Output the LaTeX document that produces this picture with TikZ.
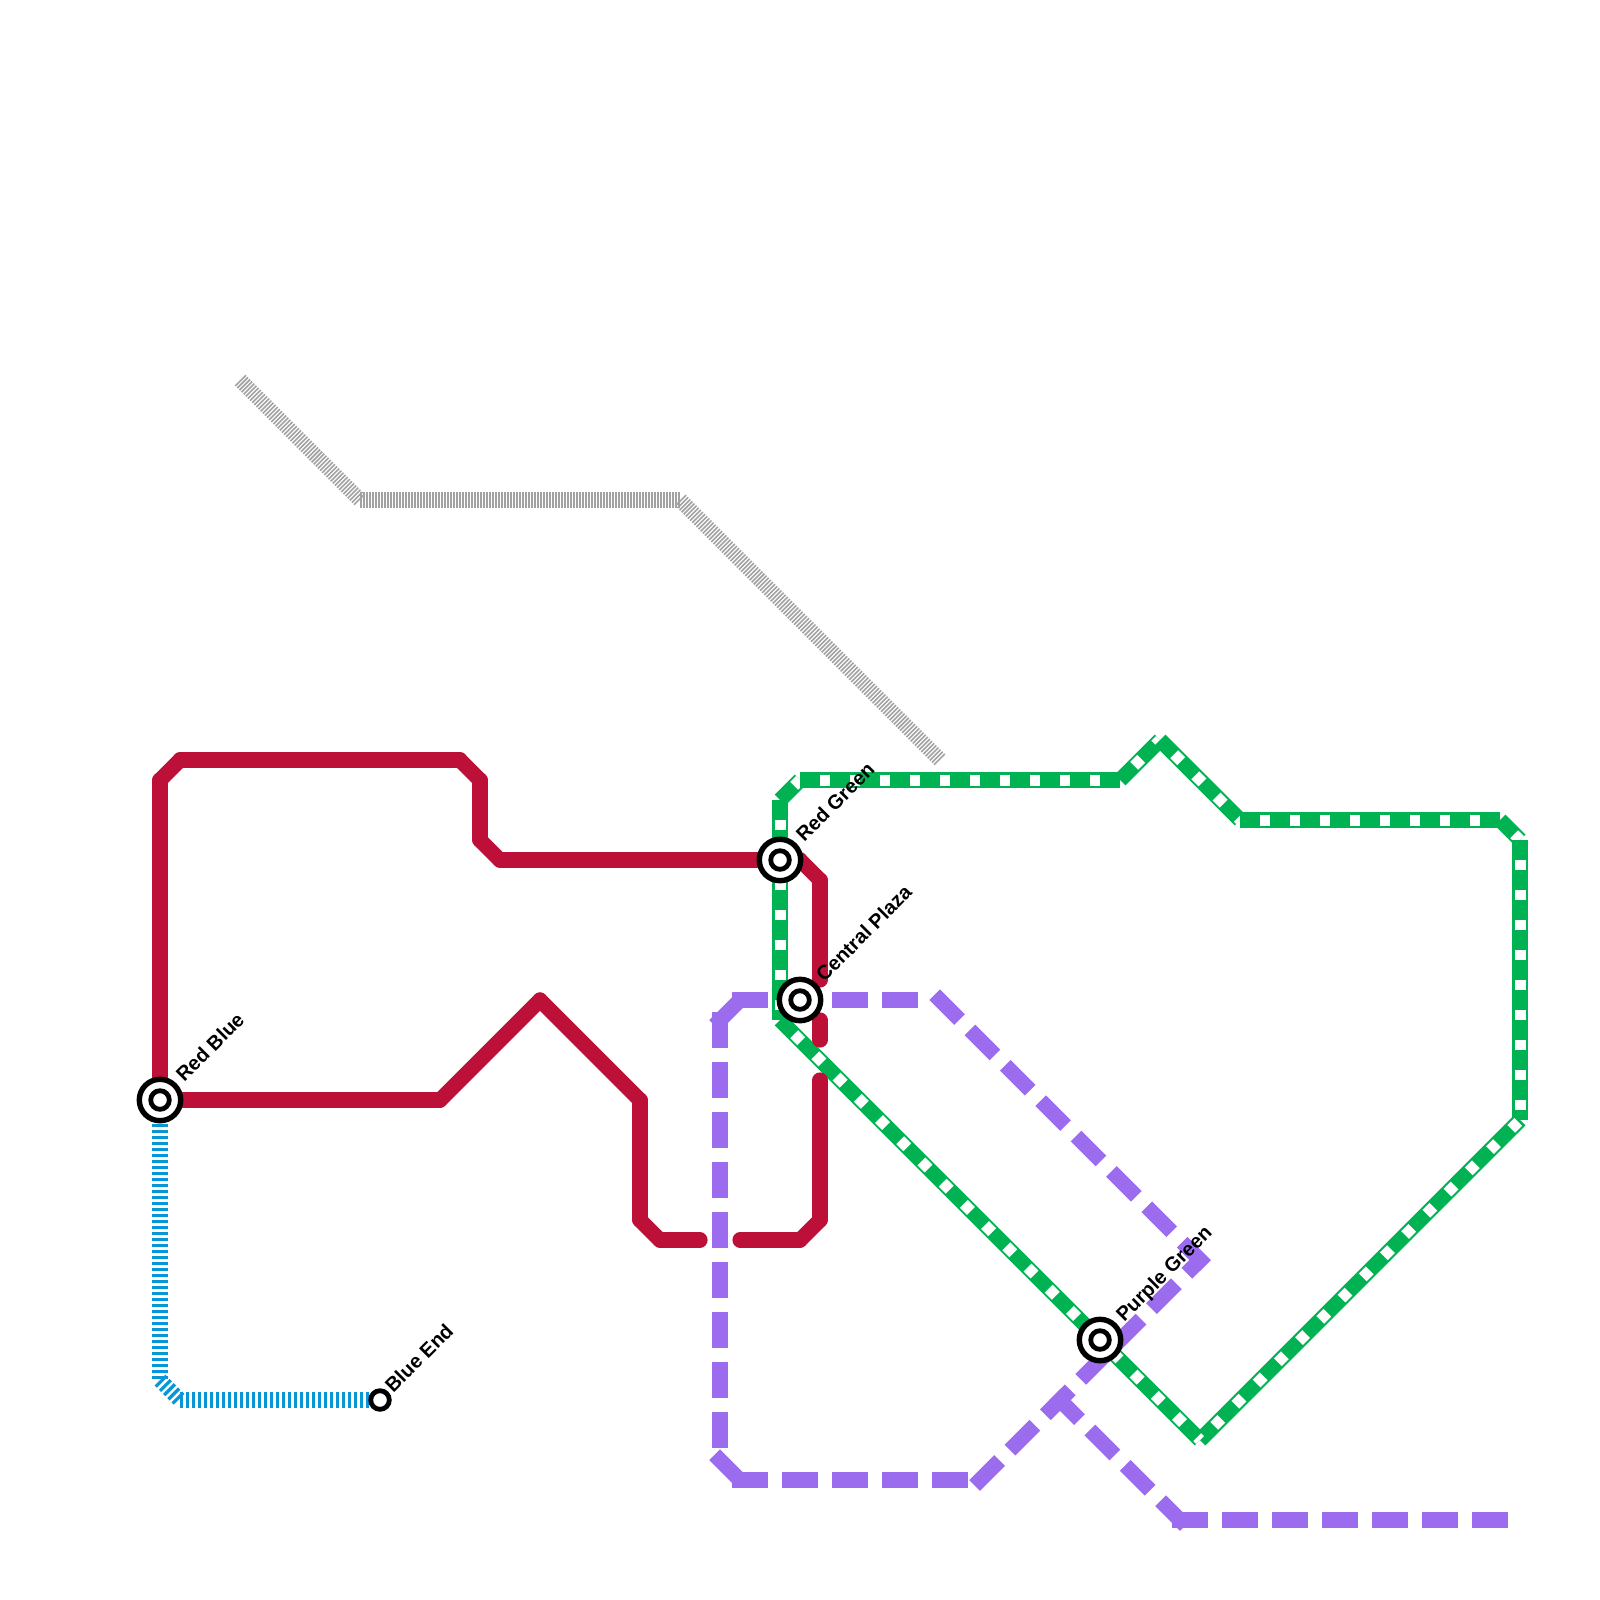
\documentclass[tikz,border=0pt]{standalone}
\usepackage{fontspec}
\setmainfont{Liberation Sans}
\usetikzlibrary{backgrounds}
\definecolor{linered}{HTML}{BD1038}
\definecolor{linegreen}{HTML}{00B251}
\definecolor{lineblue}{HTML}{0896D7}
\definecolor{linepurple}{HTML}{9B6CED}
\definecolor{linegray}{HTML}{A2A2A2}
\tikzset{
  hub/.style={circle, draw=black, fill=white, line width=2.7pt, minimum size=20.7pt, inner sep=0pt, outer sep=0pt},
  dot/.style={circle, draw=black, fill=white, line width=2.4pt, minimum size=9.3pt, inner sep=0pt, outer sep=0pt},
  lab/.style={anchor=base west, rotate=45, inner sep=0pt, font=\fontsize{10}{12}\selectfont\bfseries},
  redline/.style={linered, line width=7.6pt, line cap=round},
  greenline/.style={linegreen, line width=7.6pt},
  greengap/.style={white, line width=5.5pt, dash pattern=on 5pt off 10pt, dash phase=5pt},
  purpleline/.style={linepurple, line width=7.6pt, line cap=rect, dash pattern=on 10pt off 15pt},
  blueline/.style={lineblue, line width=7.6pt, dash pattern=on 1.6pt off 1.4pt},
  grayline/.style={linegray, line width=7.6pt, dash pattern=on .8pt off .7pt}
}
\begin{document}
\begin{tikzpicture}[x=.5pt, y=-.5pt]
  \useasboundingbox (0,0) rectangle (1600,1600);

  \node[hub] (redblue) at (160,1100) {};
  \node[dot] (redbluein) at (redblue) {};
  \node[hub] (redgreen) at (780,860) {};
  \node[dot] (redgreenin) at (redgreen) {};
  \node[hub] (central) at (800,1000) {};
  \node[dot] (centralin) at (central) {};
  \node[hub] (purplegreen) at (1100,1340) {};
  \node[dot] (purplegreenin) at (purplegreen) {};
  \node[dot] (blueend) at (380,1400) {};

  \node[lab] (redbluelab) at (184,1083) {Red Blue};
  \node[lab] (redgreenlab) at (804,843) {Red Green};
  \node[lab] (centrallab) at (824,983) {Central Plaza};
  \node[lab] (purplegreenlab) at (1124,1323) {Purple Green};
  \node[lab] (blueendlab) at (393,1394) {Blue End};

  \foreach \name/\x/\y in {
    r1/160/780, r2/180/760, r3/460/760, r4/480/780, r5/480/840, r6/500/860,
    r7/800/860, r8/820/880, r9/820/980, r10/820/1020, r11/820/1040, r12/820/1080,
    r13/820/1220, r14/800/1240, r15/740/1240, r16/700/1240, r17/660/1240,
    r18/640/1220, r19/640/1100, r20/540/1000, r21/440/1100,
    g1/780/800, g2/800/780, g3/1120/780, g4/1160/740, g5/1240/820, g6/1500/820,
    g7/1520/840, g8/1520/1120, g9/1200/1440, g10/780/1020,
    p1/740/1000, p2/940/1000, p3/1200/1260, p4/720/1020, p5/720/1460, p6/740/1480,
    p7/980/1480, p8/1060/1400, p9/1180/1520, p10/1500/1520,
    b1/160/1380, b2/180/1400,
    k1/240/380, k2/360/500, k3/680/500, k4/940/760
  } \coordinate (\name) at (\x,\y);

  \begin{pgfonlayer}{background}
    \foreach \a/\b in {k1/k2, k2/k3, k3/k4}
      \draw[grayline] (\a) -- (\b);
    \foreach \a/\b in {redblue.center/b1, b1/b2, b2/blueend.center}
      \draw[blueline] (\a) -- (\b);
    \foreach \a/\b in {g1/g2, g2/g3, g3/g4, g4/g5, g5/g6, g6/g7, g7/g8, g9/g8, g1/g10, g10/g9} {
      \draw[greenline] (\a) -- (\b);
      \draw[greengap] (\a) -- (\b);
    }
    \foreach \a/\b in {redblue.center/r1, r1/r2, r2/r3, r3/r4, r4/r5, r5/r6, r6/redgreen.center,
      redgreen.center/r7, r7/r8, r8/r9, r10/r11, r12/r13, r13/r14, r14/r15, r16/r17, r17/r18,
      r18/r19, r19/r20, r20/r21, r21/redblue.center}
      \draw[redline] (\a) -- (\b);
    \foreach \a/\b in {p4/p1, p1/p2, p2/p3, p4/p5, p5/p6, p6/p7, p7/p3, p8/p9, p9/p10}
      \draw[purpleline] (\a) -- (\b);
  \end{pgfonlayer}
\end{tikzpicture}
\end{document}
